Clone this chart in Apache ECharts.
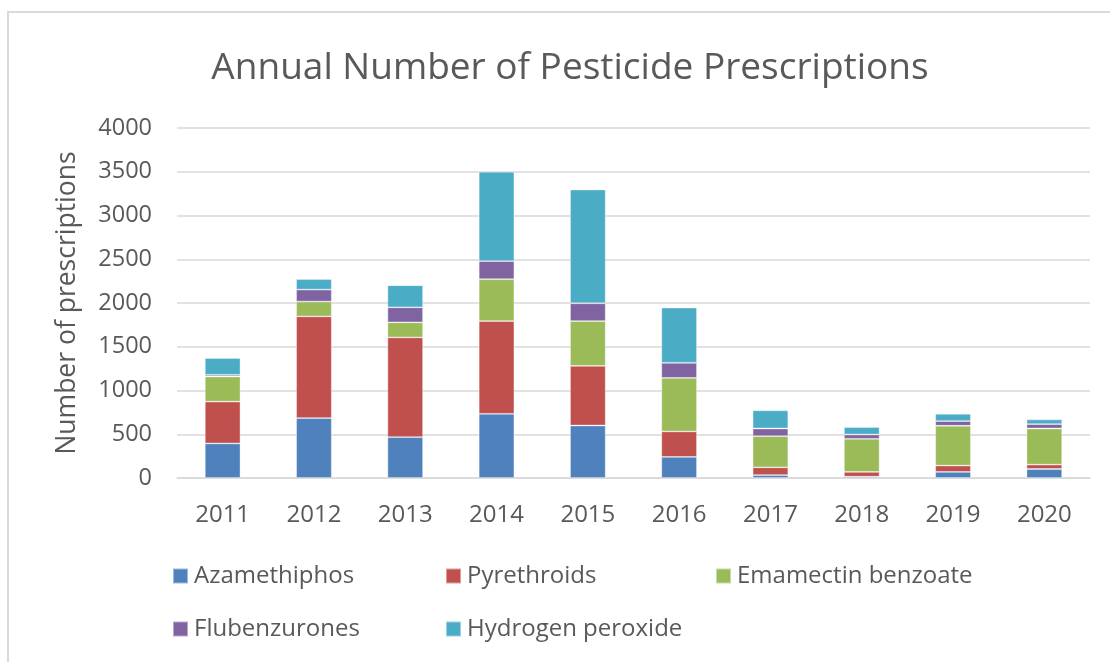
<!DOCTYPE html>
<html>
<head>
<meta charset="UTF-8">
<title>Annual Number of Pesticide Prescriptions</title>
<script src="https://cdn.jsdelivr.net/npm/echarts@6/dist/echarts.min.js"></script>
<style>
  html, body { margin: 0; padding: 0; background: #fff; }
</style>
</head>
<body>
<div id="main" style="width: 1110px;height:662px;"></div>
<script type="text/javascript">
    var years = ['2011', '2012', '2013', '2014', '2015', '2016', '2017', '2018', '2019', '2020'];
    var azamethiphos = [395, 685, 467, 734, 600, 241, 34, 15, 69, 103];
    var pyrethroids = [478, 1162, 1140, 1060, 681, 291, 88, 54, 73, 50];
    var emamectin = [287, 169, 172, 478, 513, 612, 356, 379, 455, 413];
    var flubenzurones = [19, 137, 172, 207, 203, 172, 88, 49, 53, 50];
    var peroxide = [191, 119, 252, 1021, 1300, 631, 207, 84, 84, 53];

    var seriesNames = ['Azamethiphos', 'Pyrethroids', 'Emamectin benzoate', 'Flubenzurones', 'Hydrogen peroxide'];
    var seriesData = [azamethiphos, pyrethroids, emamectin, flubenzurones, peroxide];
    var colors = ['#4f81bd', '#c0504d', '#9bbb59', '#8064a2', '#4bacc6'];

    var font = '"Open Sans", "Noto Sans", sans-serif';
    var textColor = '#595959';

    var myChart = echarts.init(document.getElementById('main'));

    // legend laid out as a 3-column grid, one component per item
    var legendCols = [172, 445, 715];
    var legendRows = [564, 617];
    var legends = seriesNames.map(function (name, i) {
        return {
            data: [name],
            left: legendCols[i % 3],
            top: legendRows[Math.floor(i / 3)],
            padding: 0,
            icon: 'rect',
            itemWidth: 15,
            itemHeight: 15,
            textStyle: {
                color: textColor,
                fontFamily: font,
                fontSize: 24,
                padding: [0, 0, 0, 1]
            }
        };
    });

    var series = seriesNames.map(function (name, i) {
        return {
            name: name,
            type: 'bar',
            stack: 'total',
            barWidth: '39%',
            data: seriesData[i],
            itemStyle: {
                color: colors[i],
                borderColor: 'rgba(255,255,255,0.45)',
                borderWidth: 0.8
            }
        };
    });

    var option = {
        backgroundColor: '#fff',
        color: colors,
        animation: false,
        title: {
            text: 'Annual Number of Pesticide Prescriptions',
            left: 565,
            textAlign: 'center',
            top: 45,
            textStyle: {
                color: textColor,
                fontFamily: font,
                fontSize: 37,
                fontWeight: 'normal'
            }
        },
        legend: legends,
        grid: {
            left: 177,
            right: 20,
            top: 128,
            bottom: 184
        },
        xAxis: {
            type: 'category',
            data: years,
            axisLine: { lineStyle: { color: '#d9d9d9', width: 1.5 } },
            axisTick: { show: false },
            axisLabel: {
                color: textColor,
                fontFamily: font,
                fontSize: 24,
                margin: 25
            }
        },
        yAxis: {
            type: 'value',
            min: 0,
            max: 4000,
            interval: 500,
            name: 'Number of prescriptions',
            nameLocation: 'middle',
            nameGap: 96,
            nameTextStyle: {
                color: textColor,
                fontFamily: font,
                fontSize: 26.5
            },
            axisLine: { show: false },
            axisTick: { show: false },
            axisLabel: {
                color: textColor,
                fontFamily: font,
                fontSize: 23.5,
                margin: 25,
                formatter: function (v) { return String(v); }
            },
            splitLine: { lineStyle: { color: '#d9d9d9', width: 1.5 } }
        },
        graphic: [
            {
                type: 'polyline',
                shape: { points: [[8, 662], [8, 12], [1110, 12]] },
                style: { stroke: '#d9d9d9', lineWidth: 2, fill: null }
            }
        ],
        series: series
    };

    myChart.setOption(option);
</script>
</body>
</html>
